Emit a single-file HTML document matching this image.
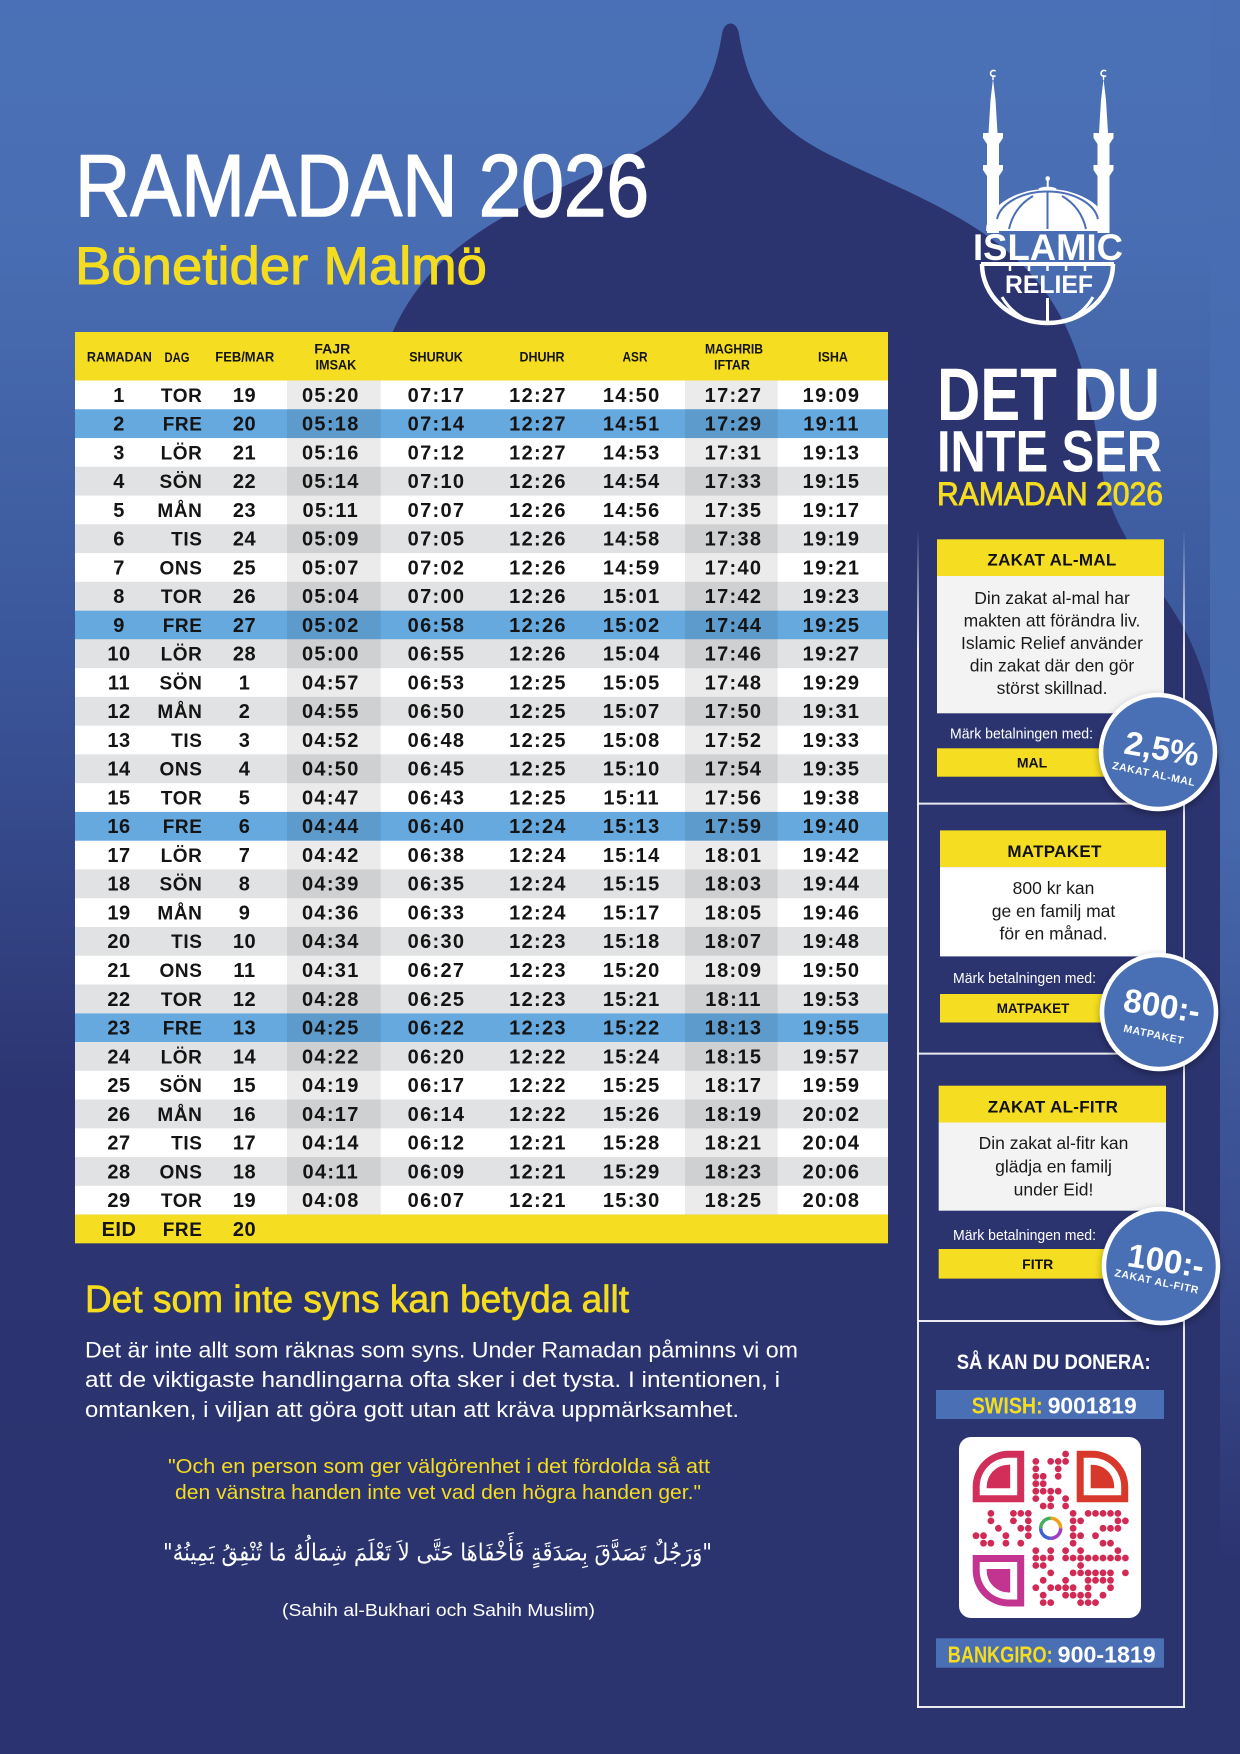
<!DOCTYPE html>
<html><head><meta charset="utf-8">
<style>
html,body{margin:0;padding:0;background:#2c3470;width:1240px;height:1754px;overflow:hidden}
svg{display:block}
text{font-family:"Liberation Sans",Arial,sans-serif}
.h{font-weight:bold;font-size:14px;fill:#141414;text-anchor:middle}
.n{font-weight:bold;font-size:20px;fill:#141414;text-anchor:middle;letter-spacing:.5px}
.d{font-weight:bold;font-size:19px;fill:#141414;text-anchor:end;letter-spacing:.6px}
.t{font-weight:bold;font-size:20px;fill:#141414;text-anchor:middle;letter-spacing:1.3px}
.bx{font-size:17.5px;fill:#1a1a1a;text-anchor:middle}
.hd{font-weight:bold;font-size:17px;fill:#111;text-anchor:middle;letter-spacing:.3px}
.br{font-weight:bold;font-size:14px;fill:#111;text-anchor:middle}
.mk{font-size:14.5px;fill:#fff}
.cb{font-weight:bold;font-size:33px;fill:#fff;text-anchor:middle}
.cs{font-weight:bold;font-size:10.5px;fill:#fff;text-anchor:middle;letter-spacing:.6px}
</style></head>
<body>
<svg width="1240" height="1754" viewBox="0 0 1240 1754" xmlns="http://www.w3.org/2000/svg">
<defs>
<linearGradient id="bg" gradientUnits="userSpaceOnUse" x1="0" y1="0" x2="0" y2="1754">
<stop offset="0" stop-color="#4a71b7"/>
<stop offset="0.14" stop-color="#496db2"/>
<stop offset="0.37" stop-color="#3b579b"/>
<stop offset="0.63" stop-color="#2c3471"/>
<stop offset="1" stop-color="#2b3370"/>
</linearGradient>
<linearGradient id="rs" gradientUnits="userSpaceOnUse" x1="0" y1="0" x2="0" y2="1754">
<stop offset="0" stop-color="#4a6fb4"/>
<stop offset="0.46" stop-color="#4669ad"/>
<stop offset="0.74" stop-color="#37498b"/>
<stop offset="0.89" stop-color="#2c3470"/>
<stop offset="1" stop-color="#2c3470"/>
</linearGradient>
<linearGradient id="pl" gradientUnits="userSpaceOnUse" x1="0" y1="530" x2="0" y2="650">
<stop offset="0" stop-color="#fff" stop-opacity="0"/>
<stop offset="1" stop-color="#fff" stop-opacity="0.9"/>
</linearGradient>
<filter id="sh" x="-30%" y="-30%" width="160%" height="160%">
<feDropShadow dx="0" dy="3" stdDeviation="4" flood-color="#000" flood-opacity=".35"/>
</filter>
</defs>

<!-- background -->
<rect x="0" y="0" width="1240" height="1754" fill="url(#bg)"/>
<rect x="1210" y="0" width="30" height="1754" fill="url(#rs)"/>
<path fill="#2c3470" d="M722,34 C724,20 737,20 739,34 C748,90 770,125 830,155 C900,190 990,220 1040,285 C1080,335 1092,400 1102,470 C1110,530 1150,570 1185,630 C1210,680 1220,730 1220,800 L1220,1754 L241,1754 L241,800 C241,730 251,680 276,630 C311,570 351,530 359,470 C369,400 381,335 421,285 C471,220 561,190 631,155 C691,125 713,90 722,34 Z"/>

<!-- titles -->
<text x="75" y="216" font-size="88" fill="#fff" stroke="#fff" stroke-width="1.6" stroke-linejoin="round" textLength="574" lengthAdjust="spacingAndGlyphs">RAMADAN 2026</text>
<text x="75" y="284" font-size="53" fill="#f5dc1e" stroke="#f5dc1e" stroke-width="1" textLength="412" lengthAdjust="spacingAndGlyphs">Bönetider Malmö</text>

<!-- logo -->
<g fill="#fff">
<path d="M993,79 L990.5,100 L988.5,133 L983,133 L983,138 L987,144 L987,165 L983,165 L983,170 L987,176 L987,233 L999,233 L999,176 L1003,170 L1003,165 L999,165 L999,144 L1003,138 L1003,133 L997.5,133 L995.5,100 Z"/>
<rect x="992.3" y="75" width="1.4" height="5"/>
<path d="M1103.5,79 L1101,100 L1099,133 L1093.5,133 L1093.5,138 L1097.5,144 L1097.5,165 L1093.5,165 L1093.5,170 L1097.5,176 L1097.5,233 L1109.5,233 L1109.5,176 L1113.5,170 L1113.5,165 L1109.5,165 L1109.5,144 L1113.5,138 L1113.5,133 L1108,133 L1106,100 Z"/>
<rect x="1102.8" y="75" width="1.4" height="5"/>
<path d="M986,231 A61.5,42 0 0 1 1109,231 Z"/>
<circle cx="1047.7" cy="178.5" r="2.3"/>
<rect x="1046.7" y="180" width="2" height="8"/>
<ellipse cx="1047.5" cy="189" rx="9" ry="2.2"/>
</g>
<path d="M995.6,71.2 A3,3 0 1 0 995.6,75.6" fill="none" stroke="#fff" stroke-width="1.6"/>
<path d="M1106.1,71.2 A3,3 0 1 0 1106.1,75.6" fill="none" stroke="#fff" stroke-width="1.6"/>
<g fill="none" stroke="#4a6fb4" stroke-width="2">
<path d="M997,219 A51,32 0 0 1 1098,219"/>
<path d="M1047.5,192 L1047.5,229"/>
<path d="M1033,196 Q1014,207 1009,229"/>
<path d="M1062,196 Q1081,207 1086,229"/>
</g>
<text x="973" y="260" font-size="37" font-weight="bold" fill="#fff" textLength="150" lengthAdjust="spacingAndGlyphs">ISLAMIC</text>
<g fill="none" stroke="#fff">
<path d="M982,264 A65.5,59 0 0 0 1113,264" stroke-width="4.5"/>
<line x1="981" y1="264" x2="1114" y2="264" stroke-width="4"/>
<g stroke-width="2.5">
<line x1="1010" y1="264" x2="1010" y2="271"/>
<line x1="1029" y1="264" x2="1029" y2="271"/>
<line x1="1047.5" y1="264" x2="1047.5" y2="271"/>
<line x1="1066" y1="264" x2="1066" y2="271"/>
<line x1="1085" y1="264" x2="1085" y2="271"/>
</g>
<g stroke-width="3">
<path d="M1002,297 Q1010,311 1025,319"/>
<path d="M1093,297 Q1085,311 1070,319"/>
<line x1="1047.5" y1="298" x2="1047.5" y2="322"/>
</g>
</g>
<text x="1049" y="293" font-size="25" font-weight="bold" fill="#fff" text-anchor="middle" textLength="88" lengthAdjust="spacingAndGlyphs">RELIEF</text>

<!-- right headline -->
<text x="937" y="420" font-size="74" font-weight="bold" fill="#fff" textLength="223" lengthAdjust="spacingAndGlyphs">DET DU</text>
<text x="937" y="471.7" font-size="58" font-weight="bold" fill="#fff" textLength="225" lengthAdjust="spacingAndGlyphs">INTE SER</text>
<text x="937" y="505" font-size="32.5" fill="#f5dc1e" stroke="#f5dc1e" stroke-width="0.9" textLength="226" lengthAdjust="spacingAndGlyphs">RAMADAN 2026</text>

<!-- TABLE -->
<rect x="75" y="332" width="813" height="48.5" fill="#f5de21"/>
<rect x="75" y="380.5" width="813" height="834.1" fill="#ffffff"/>
<g fill="#66a9df">
<rect x="75" y="409.26" width="813" height="28.8"/>
<rect x="75" y="610.58" width="813" height="28.8"/>
<rect x="75" y="811.90" width="813" height="28.8"/>
<rect x="75" y="1013.22" width="813" height="28.8"/>
</g>
<g fill="#e1e2e3">
<rect x="75" y="466.78" width="813" height="28.8"/>
<rect x="75" y="524.30" width="813" height="28.8"/>
<rect x="75" y="581.82" width="813" height="28.8"/>
<rect x="75" y="639.34" width="813" height="28.8"/>
<rect x="75" y="696.86" width="813" height="28.8"/>
<rect x="75" y="754.38" width="813" height="28.8"/>
<rect x="75" y="869.42" width="813" height="28.8"/>
<rect x="75" y="926.94" width="813" height="28.8"/>
<rect x="75" y="984.46" width="813" height="28.8"/>
<rect x="75" y="1041.98" width="813" height="28.8"/>
<rect x="75" y="1099.50" width="813" height="28.8"/>
<rect x="75" y="1157.02" width="813" height="28.8"/>
</g>
<rect x="287" y="380.5" width="93.7" height="834.1" fill="#000" fill-opacity="0.08"/>
<rect x="685" y="380.5" width="92.7" height="834.1" fill="#000" fill-opacity="0.08"/>
<rect x="75" y="1214.54" width="813" height="28.8" fill="#f5de21"/>

<text class="h" x="119.4" y="361.5" textLength="65" lengthAdjust="spacingAndGlyphs">RAMADAN</text>
<text class="h" x="177" y="362" textLength="25" lengthAdjust="spacingAndGlyphs">DAG</text>
<text class="h" x="244.8" y="361.5" textLength="59" lengthAdjust="spacingAndGlyphs">FEB/MAR</text>
<text class="h" x="332.3" y="353.5" textLength="36" lengthAdjust="spacingAndGlyphs">FAJR</text>
<text class="h" x="335.9" y="369.5" textLength="40.7" lengthAdjust="spacingAndGlyphs">IMSAK</text>
<text class="h" x="436" y="361.5" textLength="53.6" lengthAdjust="spacingAndGlyphs">SHURUK</text>
<text class="h" x="542" y="361.5" textLength="45" lengthAdjust="spacingAndGlyphs">DHUHR</text>
<text class="h" x="635" y="361.5" textLength="25" lengthAdjust="spacingAndGlyphs">ASR</text>
<text class="h" x="734" y="353.5" textLength="58" lengthAdjust="spacingAndGlyphs">MAGHRIB</text>
<text class="h" x="732" y="369.5" textLength="36" lengthAdjust="spacingAndGlyphs">IFTAR</text>
<text class="h" x="833" y="361.5" textLength="30" lengthAdjust="spacingAndGlyphs">ISHA</text>

<g transform="translate(0,401.8)"><text class="n" x="119">1</text><text class="d" x="202.5">TOR</text><text class="n" x="244.5">19</text><text class="t" x="330.8">05:20</text><text class="t" x="436.5">07:17</text><text class="t" x="538">12:27</text><text class="t" x="631.7">14:50</text><text class="t" x="733.5">17:27</text><text class="t" x="831.5">19:09</text></g>
<g transform="translate(0,430.56)"><text class="n" x="119">2</text><text class="d" x="202.5">FRE</text><text class="n" x="244.5">20</text><text class="t" x="330.8">05:18</text><text class="t" x="436.5">07:14</text><text class="t" x="538">12:27</text><text class="t" x="631.7">14:51</text><text class="t" x="733.5">17:29</text><text class="t" x="831.5">19:11</text></g>
<g transform="translate(0,459.32)"><text class="n" x="119">3</text><text class="d" x="202.5">LÖR</text><text class="n" x="244.5">21</text><text class="t" x="330.8">05:16</text><text class="t" x="436.5">07:12</text><text class="t" x="538">12:27</text><text class="t" x="631.7">14:53</text><text class="t" x="733.5">17:31</text><text class="t" x="831.5">19:13</text></g>
<g transform="translate(0,488.08)"><text class="n" x="119">4</text><text class="d" x="202.5">SÖN</text><text class="n" x="244.5">22</text><text class="t" x="330.8">05:14</text><text class="t" x="436.5">07:10</text><text class="t" x="538">12:26</text><text class="t" x="631.7">14:54</text><text class="t" x="733.5">17:33</text><text class="t" x="831.5">19:15</text></g>
<g transform="translate(0,516.84)"><text class="n" x="119">5</text><text class="d" x="202.5">MÅN</text><text class="n" x="244.5">23</text><text class="t" x="330.8">05:11</text><text class="t" x="436.5">07:07</text><text class="t" x="538">12:26</text><text class="t" x="631.7">14:56</text><text class="t" x="733.5">17:35</text><text class="t" x="831.5">19:17</text></g>
<g transform="translate(0,545.6)"><text class="n" x="119">6</text><text class="d" x="202.5">TIS</text><text class="n" x="244.5">24</text><text class="t" x="330.8">05:09</text><text class="t" x="436.5">07:05</text><text class="t" x="538">12:26</text><text class="t" x="631.7">14:58</text><text class="t" x="733.5">17:38</text><text class="t" x="831.5">19:19</text></g>
<g transform="translate(0,574.36)"><text class="n" x="119">7</text><text class="d" x="202.5">ONS</text><text class="n" x="244.5">25</text><text class="t" x="330.8">05:07</text><text class="t" x="436.5">07:02</text><text class="t" x="538">12:26</text><text class="t" x="631.7">14:59</text><text class="t" x="733.5">17:40</text><text class="t" x="831.5">19:21</text></g>
<g transform="translate(0,603.12)"><text class="n" x="119">8</text><text class="d" x="202.5">TOR</text><text class="n" x="244.5">26</text><text class="t" x="330.8">05:04</text><text class="t" x="436.5">07:00</text><text class="t" x="538">12:26</text><text class="t" x="631.7">15:01</text><text class="t" x="733.5">17:42</text><text class="t" x="831.5">19:23</text></g>
<g transform="translate(0,631.88)"><text class="n" x="119">9</text><text class="d" x="202.5">FRE</text><text class="n" x="244.5">27</text><text class="t" x="330.8">05:02</text><text class="t" x="436.5">06:58</text><text class="t" x="538">12:26</text><text class="t" x="631.7">15:02</text><text class="t" x="733.5">17:44</text><text class="t" x="831.5">19:25</text></g>
<g transform="translate(0,660.64)"><text class="n" x="119">10</text><text class="d" x="202.5">LÖR</text><text class="n" x="244.5">28</text><text class="t" x="330.8">05:00</text><text class="t" x="436.5">06:55</text><text class="t" x="538">12:26</text><text class="t" x="631.7">15:04</text><text class="t" x="733.5">17:46</text><text class="t" x="831.5">19:27</text></g>
<g transform="translate(0,689.4)"><text class="n" x="119">11</text><text class="d" x="202.5">SÖN</text><text class="n" x="244.5">1</text><text class="t" x="330.8">04:57</text><text class="t" x="436.5">06:53</text><text class="t" x="538">12:25</text><text class="t" x="631.7">15:05</text><text class="t" x="733.5">17:48</text><text class="t" x="831.5">19:29</text></g>
<g transform="translate(0,718.16)"><text class="n" x="119">12</text><text class="d" x="202.5">MÅN</text><text class="n" x="244.5">2</text><text class="t" x="330.8">04:55</text><text class="t" x="436.5">06:50</text><text class="t" x="538">12:25</text><text class="t" x="631.7">15:07</text><text class="t" x="733.5">17:50</text><text class="t" x="831.5">19:31</text></g>
<g transform="translate(0,746.92)"><text class="n" x="119">13</text><text class="d" x="202.5">TIS</text><text class="n" x="244.5">3</text><text class="t" x="330.8">04:52</text><text class="t" x="436.5">06:48</text><text class="t" x="538">12:25</text><text class="t" x="631.7">15:08</text><text class="t" x="733.5">17:52</text><text class="t" x="831.5">19:33</text></g>
<g transform="translate(0,775.68)"><text class="n" x="119">14</text><text class="d" x="202.5">ONS</text><text class="n" x="244.5">4</text><text class="t" x="330.8">04:50</text><text class="t" x="436.5">06:45</text><text class="t" x="538">12:25</text><text class="t" x="631.7">15:10</text><text class="t" x="733.5">17:54</text><text class="t" x="831.5">19:35</text></g>
<g transform="translate(0,804.44)"><text class="n" x="119">15</text><text class="d" x="202.5">TOR</text><text class="n" x="244.5">5</text><text class="t" x="330.8">04:47</text><text class="t" x="436.5">06:43</text><text class="t" x="538">12:25</text><text class="t" x="631.7">15:11</text><text class="t" x="733.5">17:56</text><text class="t" x="831.5">19:38</text></g>
<g transform="translate(0,833.2)"><text class="n" x="119">16</text><text class="d" x="202.5">FRE</text><text class="n" x="244.5">6</text><text class="t" x="330.8">04:44</text><text class="t" x="436.5">06:40</text><text class="t" x="538">12:24</text><text class="t" x="631.7">15:13</text><text class="t" x="733.5">17:59</text><text class="t" x="831.5">19:40</text></g>
<g transform="translate(0,861.96)"><text class="n" x="119">17</text><text class="d" x="202.5">LÖR</text><text class="n" x="244.5">7</text><text class="t" x="330.8">04:42</text><text class="t" x="436.5">06:38</text><text class="t" x="538">12:24</text><text class="t" x="631.7">15:14</text><text class="t" x="733.5">18:01</text><text class="t" x="831.5">19:42</text></g>
<g transform="translate(0,890.72)"><text class="n" x="119">18</text><text class="d" x="202.5">SÖN</text><text class="n" x="244.5">8</text><text class="t" x="330.8">04:39</text><text class="t" x="436.5">06:35</text><text class="t" x="538">12:24</text><text class="t" x="631.7">15:15</text><text class="t" x="733.5">18:03</text><text class="t" x="831.5">19:44</text></g>
<g transform="translate(0,919.48)"><text class="n" x="119">19</text><text class="d" x="202.5">MÅN</text><text class="n" x="244.5">9</text><text class="t" x="330.8">04:36</text><text class="t" x="436.5">06:33</text><text class="t" x="538">12:24</text><text class="t" x="631.7">15:17</text><text class="t" x="733.5">18:05</text><text class="t" x="831.5">19:46</text></g>
<g transform="translate(0,948.24)"><text class="n" x="119">20</text><text class="d" x="202.5">TIS</text><text class="n" x="244.5">10</text><text class="t" x="330.8">04:34</text><text class="t" x="436.5">06:30</text><text class="t" x="538">12:23</text><text class="t" x="631.7">15:18</text><text class="t" x="733.5">18:07</text><text class="t" x="831.5">19:48</text></g>
<g transform="translate(0,977)"><text class="n" x="119">21</text><text class="d" x="202.5">ONS</text><text class="n" x="244.5">11</text><text class="t" x="330.8">04:31</text><text class="t" x="436.5">06:27</text><text class="t" x="538">12:23</text><text class="t" x="631.7">15:20</text><text class="t" x="733.5">18:09</text><text class="t" x="831.5">19:50</text></g>
<g transform="translate(0,1005.76)"><text class="n" x="119">22</text><text class="d" x="202.5">TOR</text><text class="n" x="244.5">12</text><text class="t" x="330.8">04:28</text><text class="t" x="436.5">06:25</text><text class="t" x="538">12:23</text><text class="t" x="631.7">15:21</text><text class="t" x="733.5">18:11</text><text class="t" x="831.5">19:53</text></g>
<g transform="translate(0,1034.52)"><text class="n" x="119">23</text><text class="d" x="202.5">FRE</text><text class="n" x="244.5">13</text><text class="t" x="330.8">04:25</text><text class="t" x="436.5">06:22</text><text class="t" x="538">12:23</text><text class="t" x="631.7">15:22</text><text class="t" x="733.5">18:13</text><text class="t" x="831.5">19:55</text></g>
<g transform="translate(0,1063.28)"><text class="n" x="119">24</text><text class="d" x="202.5">LÖR</text><text class="n" x="244.5">14</text><text class="t" x="330.8">04:22</text><text class="t" x="436.5">06:20</text><text class="t" x="538">12:22</text><text class="t" x="631.7">15:24</text><text class="t" x="733.5">18:15</text><text class="t" x="831.5">19:57</text></g>
<g transform="translate(0,1092.04)"><text class="n" x="119">25</text><text class="d" x="202.5">SÖN</text><text class="n" x="244.5">15</text><text class="t" x="330.8">04:19</text><text class="t" x="436.5">06:17</text><text class="t" x="538">12:22</text><text class="t" x="631.7">15:25</text><text class="t" x="733.5">18:17</text><text class="t" x="831.5">19:59</text></g>
<g transform="translate(0,1120.8)"><text class="n" x="119">26</text><text class="d" x="202.5">MÅN</text><text class="n" x="244.5">16</text><text class="t" x="330.8">04:17</text><text class="t" x="436.5">06:14</text><text class="t" x="538">12:22</text><text class="t" x="631.7">15:26</text><text class="t" x="733.5">18:19</text><text class="t" x="831.5">20:02</text></g>
<g transform="translate(0,1149.56)"><text class="n" x="119">27</text><text class="d" x="202.5">TIS</text><text class="n" x="244.5">17</text><text class="t" x="330.8">04:14</text><text class="t" x="436.5">06:12</text><text class="t" x="538">12:21</text><text class="t" x="631.7">15:28</text><text class="t" x="733.5">18:21</text><text class="t" x="831.5">20:04</text></g>
<g transform="translate(0,1178.32)"><text class="n" x="119">28</text><text class="d" x="202.5">ONS</text><text class="n" x="244.5">18</text><text class="t" x="330.8">04:11</text><text class="t" x="436.5">06:09</text><text class="t" x="538">12:21</text><text class="t" x="631.7">15:29</text><text class="t" x="733.5">18:23</text><text class="t" x="831.5">20:06</text></g>
<g transform="translate(0,1207.08)"><text class="n" x="119">29</text><text class="d" x="202.5">TOR</text><text class="n" x="244.5">19</text><text class="t" x="330.8">04:08</text><text class="t" x="436.5">06:07</text><text class="t" x="538">12:21</text><text class="t" x="631.7">15:30</text><text class="t" x="733.5">18:25</text><text class="t" x="831.5">20:08</text></g>
<g transform="translate(0,1235.84)"><text class="n" x="119">EID</text><text class="d" x="202.5">FRE</text><text class="n" x="244.5">20</text></g>

<!-- lower left text -->
<text x="85" y="1311.8" font-size="38" fill="#f5dc1e" stroke="#f5dc1e" stroke-width="0.7" textLength="544" lengthAdjust="spacingAndGlyphs">Det som inte syns kan betyda allt</text>
<text x="85" y="1357.5" font-size="22.5" fill="#fff" textLength="713" lengthAdjust="spacingAndGlyphs">Det är inte allt som räknas som syns. Under Ramadan påminns vi om</text>
<text x="85" y="1387" font-size="22.5" fill="#fff" textLength="695" lengthAdjust="spacingAndGlyphs">att de viktigaste handlingarna ofta sker i det tysta. I intentionen, i</text>
<text x="85" y="1417.2" font-size="22.5" fill="#fff" textLength="654" lengthAdjust="spacingAndGlyphs">omtanken, i viljan att göra gott utan att kräva uppmärksamhet.</text>
<text x="439" y="1472.8" font-size="20.5" fill="#f5dc1e" text-anchor="middle" textLength="542" lengthAdjust="spacingAndGlyphs">"Och en person som ger välgörenhet i det fördolda så att</text>
<text x="438" y="1499.2" font-size="20.5" fill="#f5dc1e" text-anchor="middle" textLength="526" lengthAdjust="spacingAndGlyphs">den vänstra handen inte vet vad den högra handen ger."</text>
<text x="437.5" y="1560.7" font-size="24" fill="#fff" text-anchor="middle" direction="rtl" style="font-family:'DejaVu Sans',sans-serif" textLength="549" lengthAdjust="spacingAndGlyphs">"وَرَجُلٌ تَصَدَّقَ بِصَدَقَةٍ فَأَخْفَاهَا حَتَّى لاَ تَعْلَمَ شِمَالُهُ مَا تُنْفِقُ يَمِينُهُ"</text>
<text x="438.5" y="1616" font-size="17.5" fill="#fff" text-anchor="middle" textLength="313" lengthAdjust="spacingAndGlyphs">(Sahih al-Bukhari och Sahih Muslim)</text>

<!-- right panel frame -->
<g stroke="url(#pl)" stroke-width="2" fill="none">
<line x1="918" y1="530" x2="918" y2="1708"/>
<line x1="1184" y1="530" x2="1184" y2="1708"/>
<line x1="917" y1="1707" x2="1185" y2="1707"/>
<line x1="918" y1="803.6" x2="1184" y2="803.6"/>
<line x1="918" y1="1053.6" x2="1184" y2="1053.6"/>
<line x1="918" y1="1321" x2="1184" y2="1321"/>
</g>

<!-- zakat al-mal -->
<rect x="937" y="539.3" width="227" height="36.7" fill="#f5de21"/>
<rect x="937" y="576" width="227" height="137.3" fill="#f3f3f3"/>
<text class="hd" x="1052" y="565.7">ZAKAT AL-MAL</text>
<text class="bx" x="1052" y="604">Din zakat al-mal har</text>
<text class="bx" x="1052" y="626.5">makten att förändra liv.</text>
<text class="bx" x="1052" y="649">Islamic Relief använder</text>
<text class="bx" x="1052" y="671.5">din zakat där den gör</text>
<text class="bx" x="1052" y="694">störst skillnad.</text>
<text class="mk" x="950" y="738.3" textLength="143" lengthAdjust="spacingAndGlyphs">Märk betalningen med:</text>
<rect x="937" y="748.3" width="193" height="28.4" fill="#f5de21"/>
<text class="br" x="1032" y="767.5">MAL</text>

<!-- matpaket -->
<rect x="940" y="830.4" width="226" height="36.7" fill="#f5de21"/>
<rect x="940" y="867.1" width="226" height="89.3" fill="#ffffff"/>
<text class="hd" x="1054.5" y="857">MATPAKET</text>
<text class="bx" x="1053.5" y="894">800 kr kan</text>
<text class="bx" x="1053.5" y="916.8">ge en familj mat</text>
<text class="bx" x="1053.5" y="939.6">för en månad.</text>
<text class="mk" x="953" y="983" textLength="143" lengthAdjust="spacingAndGlyphs">Märk betalningen med:</text>
<rect x="940" y="994" width="190" height="28.5" fill="#f5de21"/>
<text class="br" x="1033" y="1013" textLength="72.6" lengthAdjust="spacingAndGlyphs">MATPAKET</text>

<!-- zakat al-fitr -->
<rect x="938.7" y="1085.7" width="227.3" height="36.8" fill="#f5de21"/>
<rect x="938.7" y="1122.5" width="227.3" height="88.2" fill="#f3f3f3"/>
<text class="hd" x="1053" y="1112.5">ZAKAT AL-FITR</text>
<text class="bx" x="1053.5" y="1149">Din zakat al-fitr kan</text>
<text class="bx" x="1053.5" y="1172.4">glädja en familj</text>
<text class="bx" x="1053.5" y="1195.7">under Eid!</text>
<text class="mk" x="953" y="1240" textLength="143" lengthAdjust="spacingAndGlyphs">Märk betalningen med:</text>
<rect x="938.7" y="1249" width="191.3" height="29.6" fill="#f5de21"/>
<text class="br" x="1037.7" y="1269">FITR</text>

<!-- circles -->
<circle cx="1158" cy="752" r="57" fill="#4a6fb5" stroke="#fff" stroke-width="4.5" filter="url(#sh)"/>
<text class="cb" x="1162" y="760" transform="rotate(10 1162 748)">2,5%</text>
<text class="cs" x="1154" y="777.5" transform="rotate(12 1154 773.5)">ZAKAT AL-MAL</text>

<circle cx="1159" cy="1012" r="57" fill="#4a6fb5" stroke="#fff" stroke-width="4.5" filter="url(#sh)"/>
<text class="cb" x="1162" y="1017" transform="rotate(9 1162 1005)">800:-</text>
<text class="cs" x="1154" y="1038" transform="rotate(12 1154 1034)">MATPAKET</text>

<circle cx="1161" cy="1266" r="57" fill="#4a6fb5" stroke="#fff" stroke-width="4.5" filter="url(#sh)"/>
<text class="cb" x="1166" y="1272" transform="rotate(9 1166 1260)">100:-</text>
<text class="cs" x="1157" y="1285" transform="rotate(12 1157 1281)">ZAKAT AL-FITR</text>

<!-- donate -->
<text x="1053.7" y="1369" font-size="21" font-weight="bold" fill="#fff" text-anchor="middle" textLength="194" lengthAdjust="spacingAndGlyphs">SÅ KAN DU DONERA:</text>
<rect x="936" y="1390" width="228" height="29" fill="#4a6fb5"/>
<text x="971.7" y="1413.3" font-size="23" font-weight="bold" fill="#f5dc1e" textLength="71" lengthAdjust="spacingAndGlyphs">SWISH:</text>
<text x="1047.7" y="1413.3" font-size="23" font-weight="bold" fill="#fff" textLength="89" lengthAdjust="spacingAndGlyphs">9001819</text>

<rect x="959" y="1437" width="182" height="181" rx="12" fill="#fff"/>
<path fill="#d12f5a" fill-rule="evenodd" d="M972.7,1486.7 A36,36 0 0 1 1008.7,1450.7 L1024.2,1450.7 L1024.2,1502.2 L972.7,1502.2 Z M979.7,1486.7 A29,29 0 0 1 1008.7,1457.7 L1017.2,1457.7 L1017.2,1495.2 L979.7,1495.2 Z"/>
<path fill="#d12f5a" d="M986.7,1486.7 A22,22 0 0 1 1008.7,1464.7 L1010.2,1464.7 L1010.2,1488.2 L986.7,1488.2 Z"/>
<path fill="#d8382b" fill-rule="evenodd" d="M1076.7,1450.7 L1092.2,1450.7 A36,36 0 0 1 1128.2,1486.7 L1128.2,1502.2 L1076.7,1502.2 Z M1083.7,1457.7 L1092.2,1457.7 A29,29 0 0 1 1121.2,1486.7 L1121.2,1495.2 L1083.7,1495.2 Z"/>
<path fill="#d8382b" d="M1090.7,1464.7 L1092.2,1464.7 A22,22 0 0 1 1114.2,1486.7 L1114.2,1488.2 L1090.7,1488.2 Z"/>
<path fill="#c2348f" fill-rule="evenodd" d="M972.7,1555 L1024.2,1555 L1024.2,1606.5 L1008.7,1606.5 A36,36 0 0 1 972.7,1570.5 Z M979.7,1562 L1017.2,1562 L1017.2,1599.5 L1008.7,1599.5 A29,29 0 0 1 979.7,1570.5 Z"/>
<path fill="#c2348f" d="M986.7,1569 L1010.2,1569 L1010.2,1592.5 L1008.7,1592.5 A22,22 0 0 1 986.7,1570.5 Z"/>
<g fill="#d02a55">
<circle cx="1065.6" cy="1454" r="3.4"/>
<circle cx="1035.8" cy="1461.4" r="3.4"/><circle cx="1050.7" cy="1461.4" r="3.4"/><circle cx="1058.2" cy="1461.4" r="3.4"/><circle cx="1065.6" cy="1461.4" r="3.4"/>
<circle cx="1035.8" cy="1468.9" r="3.4"/><circle cx="1058.2" cy="1468.9" r="3.4"/>
<circle cx="1035.8" cy="1476.3" r="3.4"/><circle cx="1043.2" cy="1476.3" r="3.4"/><circle cx="1058.2" cy="1476.3" r="3.4"/>
<circle cx="1035.8" cy="1483.7" r="3.4"/><circle cx="1043.2" cy="1483.7" r="3.4"/>
<circle cx="1035.8" cy="1491.2" r="3.4"/><circle cx="1043.2" cy="1491.2" r="3.4"/><circle cx="1050.7" cy="1491.2" r="3.4"/><circle cx="1058.2" cy="1491.2" r="3.4"/>
<circle cx="1035.8" cy="1498.6" r="3.4"/><circle cx="1050.7" cy="1498.6" r="3.4"/><circle cx="1065.6" cy="1498.6" r="3.4"/>
<circle cx="1043.2" cy="1506" r="3.4"/><circle cx="1050.7" cy="1506" r="3.4"/><circle cx="1065.6" cy="1506" r="3.4"/>
<circle cx="990.9" cy="1513.4" r="3.4"/><circle cx="1013.4" cy="1513.4" r="3.4"/><circle cx="1020.8" cy="1513.4" r="3.4"/><circle cx="1028.3" cy="1513.4" r="3.4"/><circle cx="1073.1" cy="1513.4" r="3.4"/><circle cx="1088.1" cy="1513.4" r="3.4"/><circle cx="1095.5" cy="1513.4" r="3.4"/><circle cx="1103" cy="1513.4" r="3.4"/><circle cx="1110.5" cy="1513.4" r="3.4"/><circle cx="1117.9" cy="1513.4" r="3.4"/>
<circle cx="990.9" cy="1520.9" r="3.4"/><circle cx="1013.4" cy="1520.9" r="3.4"/><circle cx="1028.3" cy="1520.9" r="3.4"/><circle cx="1073.1" cy="1520.9" r="3.4"/><circle cx="1080.6" cy="1520.9" r="3.4"/><circle cx="1117.9" cy="1520.9" r="3.4"/><circle cx="1125.4" cy="1520.9" r="3.4"/>
<circle cx="998.4" cy="1528.3" r="3.4"/><circle cx="1020.8" cy="1528.3" r="3.4"/><circle cx="1028.3" cy="1528.3" r="3.4"/><circle cx="1073.1" cy="1528.3" r="3.4"/><circle cx="1103" cy="1528.3" r="3.4"/><circle cx="1110.5" cy="1528.3" r="3.4"/><circle cx="1117.9" cy="1528.3" r="3.4"/>
<circle cx="976" cy="1535.7" r="3.4"/><circle cx="983.5" cy="1535.7" r="3.4"/><circle cx="1005.9" cy="1535.7" r="3.4"/><circle cx="1028.3" cy="1535.7" r="3.4"/><circle cx="1073.1" cy="1535.7" r="3.4"/><circle cx="1080.6" cy="1535.7" r="3.4"/><circle cx="1095.5" cy="1535.7" r="3.4"/>
<circle cx="983.5" cy="1543.2" r="3.4"/><circle cx="990.9" cy="1543.2" r="3.4"/><circle cx="1005.9" cy="1543.2" r="3.4"/><circle cx="1020.8" cy="1543.2" r="3.4"/><circle cx="1073.1" cy="1543.2" r="3.4"/><circle cx="1103" cy="1543.2" r="3.4"/><circle cx="1110.5" cy="1543.2" r="3.4"/>
<circle cx="1035.8" cy="1550.6" r="3.4"/><circle cx="1050.7" cy="1550.6" r="3.4"/><circle cx="1065.6" cy="1550.6" r="3.4"/><circle cx="1080.6" cy="1550.6" r="3.4"/><circle cx="1117.9" cy="1550.6" r="3.4"/>
<circle cx="1035.8" cy="1558" r="3.4"/><circle cx="1043.2" cy="1558" r="3.4"/><circle cx="1050.7" cy="1558" r="3.4"/><circle cx="1065.6" cy="1558" r="3.4"/><circle cx="1073.1" cy="1558" r="3.4"/><circle cx="1080.6" cy="1558" r="3.4"/><circle cx="1088.1" cy="1558" r="3.4"/><circle cx="1095.5" cy="1558" r="3.4"/><circle cx="1103" cy="1558" r="3.4"/><circle cx="1110.5" cy="1558" r="3.4"/><circle cx="1117.9" cy="1558" r="3.4"/><circle cx="1125.4" cy="1558" r="3.4"/>
<circle cx="1035.8" cy="1565.5" r="3.4"/><circle cx="1043.2" cy="1565.5" r="3.4"/><circle cx="1080.6" cy="1565.5" r="3.4"/>
<circle cx="1050.7" cy="1572.9" r="3.4"/><circle cx="1073.1" cy="1572.9" r="3.4"/><circle cx="1080.6" cy="1572.9" r="3.4"/><circle cx="1088.1" cy="1572.9" r="3.4"/><circle cx="1095.5" cy="1572.9" r="3.4"/><circle cx="1103" cy="1572.9" r="3.4"/><circle cx="1110.5" cy="1572.9" r="3.4"/><circle cx="1125.4" cy="1572.9" r="3.4"/>
<circle cx="1043.2" cy="1580.3" r="3.4"/><circle cx="1065.6" cy="1580.3" r="3.4"/><circle cx="1088.1" cy="1580.3" r="3.4"/><circle cx="1095.5" cy="1580.3" r="3.4"/><circle cx="1103" cy="1580.3" r="3.4"/><circle cx="1110.5" cy="1580.3" r="3.4"/>
<circle cx="1035.8" cy="1587.7" r="3.4"/><circle cx="1050.7" cy="1587.7" r="3.4"/><circle cx="1058.2" cy="1587.7" r="3.4"/><circle cx="1065.6" cy="1587.7" r="3.4"/><circle cx="1073.1" cy="1587.7" r="3.4"/><circle cx="1088.1" cy="1587.7" r="3.4"/><circle cx="1110.5" cy="1587.7" r="3.4"/>
<circle cx="1043.2" cy="1595.2" r="3.4"/><circle cx="1065.6" cy="1595.2" r="3.4"/><circle cx="1073.1" cy="1595.2" r="3.4"/><circle cx="1080.6" cy="1595.2" r="3.4"/><circle cx="1088.1" cy="1595.2" r="3.4"/><circle cx="1103" cy="1595.2" r="3.4"/>
<circle cx="1043.2" cy="1602.6" r="3.4"/><circle cx="1050.7" cy="1602.6" r="3.4"/><circle cx="1080.6" cy="1602.6" r="3.4"/><circle cx="1088.1" cy="1602.6" r="3.4"/><circle cx="1095.5" cy="1602.6" r="3.4"/>
</g>
<g fill="none" stroke-width="3.5">
<path d="M1050.7,1518.3 A10,10 0 0 1 1060.7,1528.3" stroke="#f0a020"/>
<path d="M1060.7,1528.3 A10,10 0 0 1 1050.7,1538.3" stroke="#a040c0"/>
<path d="M1050.7,1538.3 A10,10 0 0 1 1040.7,1528.3" stroke="#4060d0"/>
<path d="M1040.7,1528.3 A10,10 0 0 1 1050.7,1518.3" stroke="#40b060"/>
</g>

<rect x="936" y="1638.3" width="228" height="29.4" fill="#4a6fb5"/>
<text x="947.7" y="1662.3" font-size="23" font-weight="bold" fill="#f5dc1e" textLength="105" lengthAdjust="spacingAndGlyphs">BANKGIRO:</text>
<text x="1057.7" y="1662.3" font-size="23" font-weight="bold" fill="#fff" textLength="98" lengthAdjust="spacingAndGlyphs">900-1819</text>
</svg>
</body></html>
